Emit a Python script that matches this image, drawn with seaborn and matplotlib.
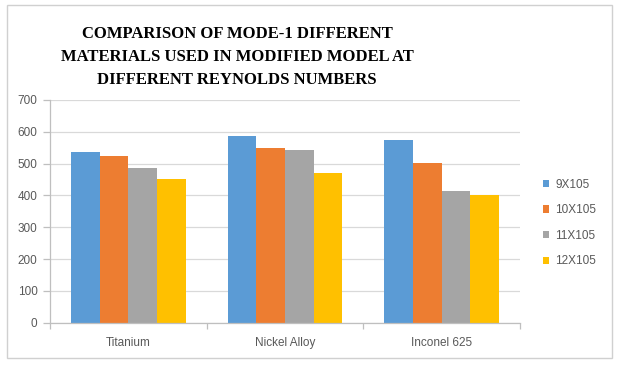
import matplotlib
matplotlib.use("Agg")
import matplotlib.pyplot as plt
import seaborn as sns
import pandas as pd
from matplotlib.patches import Rectangle, Patch

materials = ["Titanium", "Nickel Alloy", "Inconel 625"]
series = ["9X105", "10X105", "11X105", "12X105"]
re_9 = [535, 587, 575]
re_10 = [524, 549, 501]
re_11 = [486, 544, 415]
re_12 = [453, 470, 402]
colors = ["#5B9BD5", "#ED7D31", "#A5A5A5", "#FFC000"]
title = "COMPARISON OF MODE-1 DIFFERENT\nMATERIALS USED IN MODIFIED MODEL AT\nDIFFERENT REYNOLDS NUMBERS"

rows = []
for s, vals in zip(series, [re_9, re_10, re_11, re_12]):
    for m, v in zip(materials, vals):
        rows.append({"Material": m, "Series": s, "Value": v})
df = pd.DataFrame(rows)

sns.set_theme(style="white")
plt.rcParams["font.family"] = ["Liberation Sans", "DejaVu Sans"]

W, H = 624, 367
fig = plt.figure(figsize=(W / 100, H / 100), dpi=100)
ax = fig.add_axes([50 / W, (H - 322.7) / H, 470 / W, 222.7 / H])

sns.barplot(data=df, x="Material", y="Value", hue="Series", order=materials,
            hue_order=series, palette=colors, width=0.73, gap=0,
            saturation=1, edgecolor="none", linewidth=0, ax=ax, legend=False)

ax.set_ylim(0, 700)
ax.set_xlim(-0.5, 2.5)
ax.set_yticks(range(0, 701, 100))
ax.yaxis.grid(True, color="#D9D9D9", linewidth=0.9)
ax.set_axisbelow(True)
ax.set_xlabel("")
ax.set_ylabel("")
for sp in ["top", "right"]:
    ax.spines[sp].set_visible(False)
for sp in ["left", "bottom"]:
    ax.spines[sp].set_color("#BFBFBF")
    ax.spines[sp].set_linewidth(0.9)

ax.tick_params(axis="y", length=5, color="#BFBFBF", width=0.9, labelsize=8.5,
               labelcolor="#595959", pad=4, left=True)
ax.tick_params(axis="x", which="major", length=0, labelsize=8.5,
               labelcolor="#595959", pad=10)
ax.set_xticks([-0.5, 0.5, 1.5, 2.5], minor=True)
ax.tick_params(axis="x", which="minor", length=4, color="#BFBFBF", width=0.9,
               bottom=True)

handles = [Patch(facecolor=c, edgecolor="none") for c in colors]
fig.legend(handles, series, loc="upper left",
           bbox_to_anchor=(532 / W, (H - 168) / H), frameon=False,
           handlelength=0.55, handleheight=0.55, handletextpad=0.5,
           labelspacing=1.15, fontsize=8.5, labelcolor="#595959")

fig.text(237 / W, (H - 57) / H, title, ha="center", va="center",
         fontsize=12.0, fontweight="bold", family="Liberation Serif",
         linespacing=1.6, color="#000000")

fig.patches.append(Rectangle((7 / W, (H - 358) / H), 605 / W, 353 / H,
                             transform=fig.transFigure, fill=False,
                             edgecolor="#D0D0D0", linewidth=1.0))

fig.savefig("out.png", dpi=100)
